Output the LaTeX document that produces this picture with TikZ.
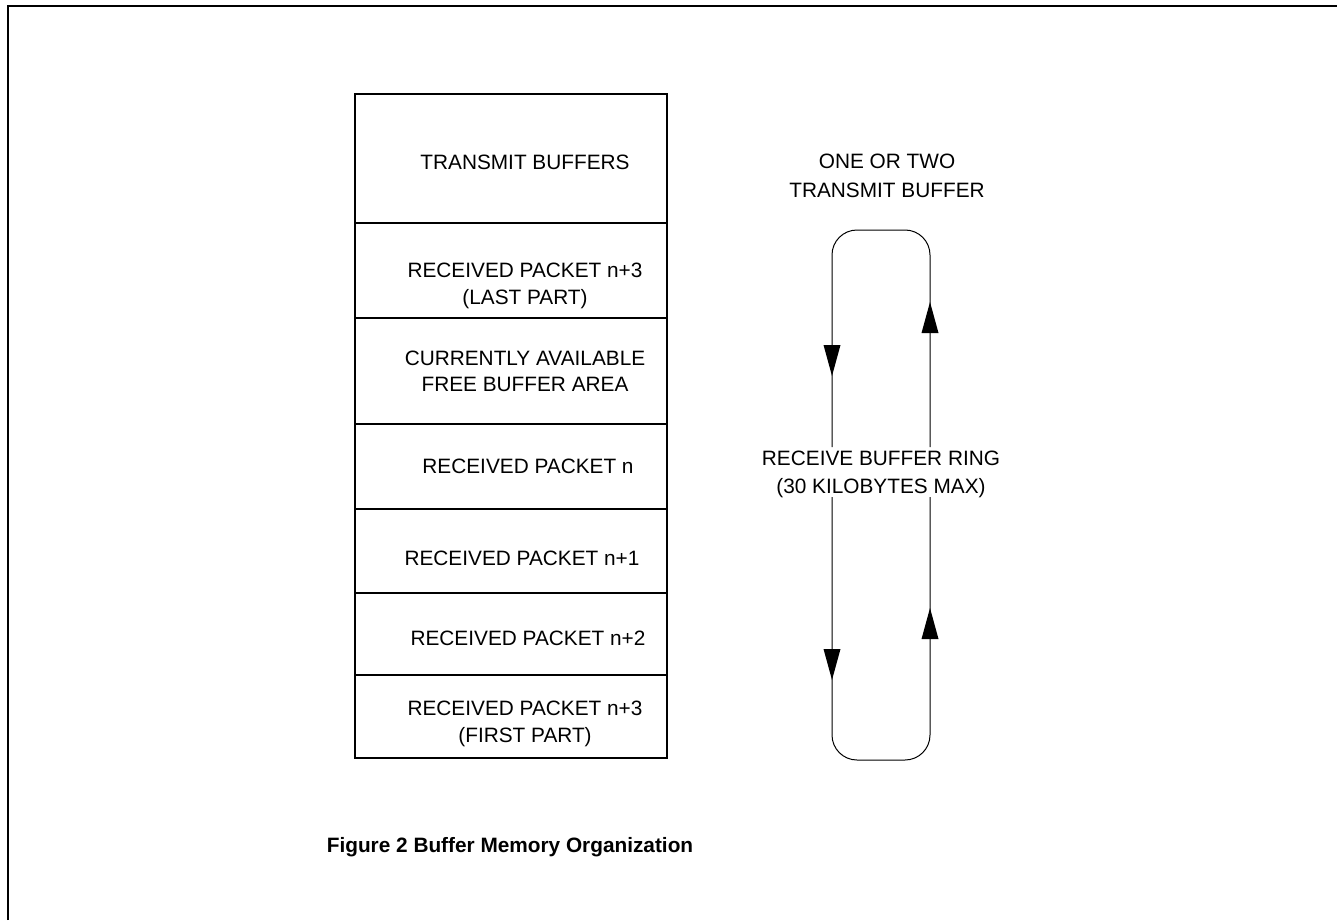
\documentclass[tikz,border=0pt]{standalone}
\usepackage{fontspec}
\setmainfont{Liberation Sans}
\begin{document}
\begin{tikzpicture}[x=1pt,y=-1pt,
  lbl/.style={anchor=base,inner sep=0pt,font=\fontsize{20.8}{25}\selectfont},
  captext/.style={anchor=base,inner sep=0pt,font=\fontsize{20.8}{25}\selectfont\bfseries},
  thick2/.style={line width=2pt},
  ring/.style={line width=1pt,rounded corners=25pt},
  head/.style={fill=black,draw=none}]
\useasboundingbox (0,0) rectangle (1337,920);
% frame
\draw[thick2] (8,920) -- (8,6) -- (1337,6);
% memory box
\draw[thick2] (355,94) rectangle (667,758);
\foreach \yy in {222.7,318,424,509,593,675}
  \draw[thick2] (355,\yy) -- (667,\yy);
% box texts
\node[lbl] (tb)  at (525,169) {TRANSMIT BUFFERS};
\node[lbl] (l3a) at (525,277) {RECEIVED PACKET n+3};
\node[lbl] (l3b) at (525,304) {(LAST PART)};
\node[lbl] (fa)  at (525,365) {CURRENTLY AVAILABLE};
\node[lbl] (fb)  at (525,391) {FREE BUFFER AREA};
\node[lbl] (pn)  at (528,473) {RECEIVED PACKET n};
\node[lbl] (pn1) at (522,565) {RECEIVED PACKET n+1};
\node[lbl] (pn2) at (528,645) {RECEIVED PACKET n+2};
\node[lbl] (f3a) at (525,715) {RECEIVED PACKET n+3};
\node[lbl] (f3b) at (525,742) {(FIRST PART)};
% ring
\draw[ring] (832,447) -- (832,230) -- (930,230) -- (930,447);
\draw[ring] (832,497) -- (832,760) -- (930,760) -- (930,497);
% arrow heads
\fill[head] (823.5,345) -- (840.5,345) -- (832,376) -- cycle;
\fill[head] (823.5,649) -- (840.5,649) -- (832,680) -- cycle;
\fill[head] (921.5,333) -- (938.5,333) -- (930,302) -- cycle;
\fill[head] (921.5,639) -- (938.5,639) -- (930,608) -- cycle;
% ring texts
\node[lbl] (oa) at (887,168) {ONE OR TWO};
\node[lbl] (ob) at (887,197) {TRANSMIT BUFFER};
\node[lbl] (ra) at (881,465) {RECEIVE BUFFER RING};
\node[lbl] (rb) at (881,493) {(30 KILOBYTES MAX)};
% caption
\node[captext] (caption) at (510,852) {Figure 2 Buffer Memory Organization};
\end{tikzpicture}
\end{document}
